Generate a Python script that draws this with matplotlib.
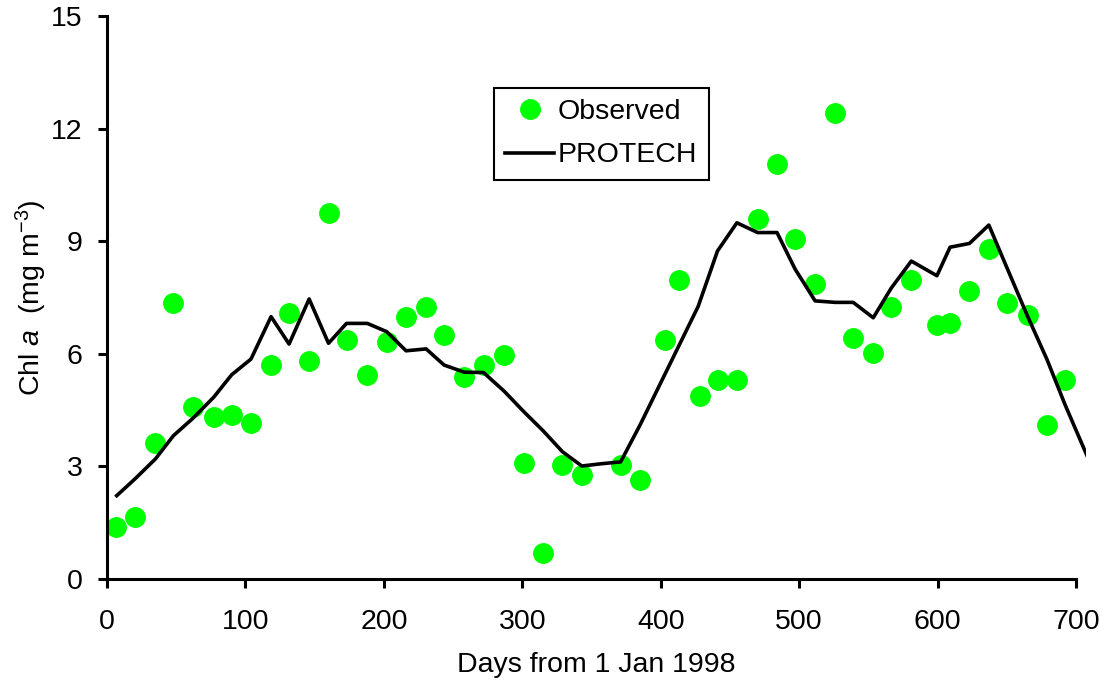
import numpy as np
import matplotlib
matplotlib.use('Agg')
from matplotlib import pyplot as plt

plt.rcParams['font.family'] = ['Liberation Sans', 'DejaVu Sans']
plt.rcParams['mathtext.fontset'] = 'custom'
plt.rcParams['mathtext.rm'] = 'Liberation Sans'
plt.rcParams['mathtext.it'] = 'Liberation Sans:italic'

# observed chlorophyll a
obs_days = [6.5, 20, 35, 48, 62, 77, 90, 104, 118.5, 131.5, 146, 160, 173, 188,
            202, 216, 230.5, 243.5, 258, 272, 287, 301, 315, 329, 343, 371, 385,
            403, 413, 428, 441, 455, 470, 484, 497, 511.5, 526, 539, 553.5, 566.5,
            581, 599.5, 609, 623, 637, 650, 665, 679, 692]
obs_vals = [1.39, 1.65, 3.62, 7.35, 4.58, 4.32, 4.37, 4.16, 5.70, 7.09, 5.81, 9.75,
            6.37, 5.44, 6.32, 6.98, 7.25, 6.50, 5.38, 5.70, 5.97, 3.09, 0.69, 3.04,
            2.77, 3.04, 2.64, 6.37, 7.97, 4.88, 5.30, 5.30, 9.59, 11.06, 9.06, 7.86,
            12.42, 6.42, 6.02, 7.25, 7.97, 6.77, 6.82, 7.67, 8.79, 7.35, 7.03, 4.10,
            5.30]

# PROTECH model output
mod_days = [7, 20, 35, 48, 62, 77, 90, 104, 118.5, 131.5, 146, 160, 173, 188, 202,
            216, 230.5, 243.5, 258, 272, 287, 301, 315, 329, 343, 357, 371, 385,
            427, 441, 455, 470, 484, 497, 511.5, 526, 539, 553.5, 566.5, 581, 599.5,
            609, 623, 637, 650, 665, 679, 692, 720]
mod_vals = [2.22, 2.66, 3.2, 3.82, 4.28, 4.84, 5.44, 5.86, 6.99, 6.26, 7.46, 6.28,
            6.81, 6.81, 6.59, 6.08, 6.13, 5.70, 5.51, 5.50, 5.0, 4.46, 3.95, 3.39,
            3.01, 3.07, 3.12, 4.1, 7.26, 8.74, 9.49, 9.23, 9.23, 8.26, 7.41, 7.37,
            7.37, 6.96, 7.75, 8.47, 8.08, 8.84, 8.94, 9.43, 8.3, 7.0, 5.85, 4.65, 2.25]

fig = plt.figure(figsize=(11.08, 6.81), dpi=100)
ax = fig.add_axes([0.0966, 0.1498, 0.8833, 0.8267])

ax.plot(obs_days, obs_vals, 'o', color='#00ff00', markersize=14, label='Observed',
        zorder=2)
ax.plot(mod_days, mod_vals, '-', color='black', linewidth=2.6, label='PROTECH',
        zorder=3)

ax.set_xlim(0, 707)
ax.set_ylim(0, 15)
ax.set_xticks([0, 100, 200, 300, 400, 500, 600, 700])
ax.set_yticks([0, 3, 6, 9, 12, 15])

for s in ['top', 'right']:
    ax.spines[s].set_visible(False)
for s in ['left', 'bottom']:
    ax.spines[s].set_linewidth(2.2)
ax.spines['bottom'].set_bounds(0, 700)
ax.tick_params(width=2.2, length=6.5, labelsize=20.5, direction='out')
ax.tick_params(axis='x', pad=15)
ax.tick_params(axis='y', pad=11)

ax.set_xlabel('Days from 1 Jan 1998', fontsize=20.5, labelpad=12)
ax.set_ylabel(r'Chl $\mathit{a}$  (mg m$^{-3}$)', fontsize=20.5, labelpad=1.5)

leg = ax.legend(loc='upper left', bbox_to_anchor=(494 / 1108, 1 - 88 / 681),
                bbox_transform=fig.transFigure, borderaxespad=0, fontsize=20.5,
                fancybox=False, edgecolor='black', handlelength=1.7,
                handletextpad=0.15, borderpad=0.4, labelspacing=0.6,
                framealpha=1)
leg.get_frame().set_linewidth(1.5)

fig.savefig('out.png', dpi=100)
